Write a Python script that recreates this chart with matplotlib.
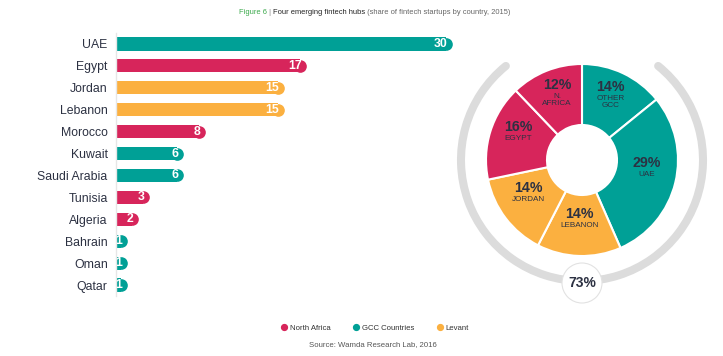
import numpy as np
import matplotlib.pyplot as plt
from matplotlib.patches import Arc, Circle
from matplotlib.lines import Line2D

plt.rcParams['font.family'] = ['Liberation Sans', 'DejaVu Sans']

# bar chart data
countries = ["UAE", "Egypt", "Jordan", "Lebanon", "Morocco", "Kuwait",
             "Saudi Arabia", "Tunisia", "Algeria", "Bahrain", "Oman", "Qatar"]
startups = [30, 17, 15, 15, 8, 6, 6, 3, 2, 1, 1, 1]
regions = ["GCC", "North Africa", "Levant", "Levant", "North Africa", "GCC",
           "GCC", "North Africa", "North Africa", "GCC", "GCC", "GCC"]

# donut data
hub_labels = ["OTHER\nGCC", "UAE", "LEBANON", "JORDAN", "EGYPT", "N.\nAFRICA"]
hub_shares = [14, 29, 14, 14, 16, 12]
hub_regions = ["GCC", "GCC", "Levant", "Levant", "North Africa", "North Africa"]
top4_label = "73%"

legend_keys = ["North Africa", "GCC", "Levant"]
legend_names = ["North Africa", "GCC Countries", "Levant"]

colors = {"North Africa": "#d7255b", "GCC": "#00a096", "Levant": "#fbb040"}
dark = "#2c3142"

W, H = 723, 356
fig = plt.figure(figsize=(W / 100, H / 100), dpi=100)

# ---- bars ----
px_per_unit = 11.23
ax = fig.add_axes([116 / W, 60 / H, 360 / W, 263 / H])
ax.set_xlim(0, 360 / px_per_unit)
ax.set_ylim(11.5, -0.5)
cap = 6.5 / px_per_unit
ys = np.arange(len(countries))
for y, v, r in zip(ys, startups, regions):
    c = colors[r]
    ax.barh(y, v - cap, height=0.6, color=c, lw=0)
    ax.plot(v - cap, y, 'o', ms=9.1, color=c, mec='none')
    ax.text(v - 0.45, y, str(v), ha='right', va='center', color='white',
            fontsize=8.8, fontweight='bold')

ax.set_yticks(ys)
ax.set_yticklabels(countries, fontsize=8.8, color=dark)
ax.tick_params(axis='y', length=0, pad=6)
ax.set_xticks([])
for s in ['top', 'right', 'bottom']:
    ax.spines[s].set_visible(False)
ax.spines['left'].set_color('#e6e6e6')
ax.spines['left'].set_linewidth(1)

# ---- donut ----
cx, cy = 582, H - 160
pax = fig.add_axes([(cx - 150) / W, (cy - 150) / H, 300 / W, 300 / H])
wedges, _ = pax.pie(hub_shares, colors=[colors[r] for r in hub_regions],
                    startangle=90, counterclock=False, radius=96,
                    wedgeprops=dict(width=61, edgecolor='white', linewidth=1.5))
pax.set_xlim(-150, 150)
pax.set_ylim(-150, 150)
pax.axis('off')

for w, lab, share in zip(wedges, hub_labels, hub_shares):
    ang = np.deg2rad((w.theta1 + w.theta2) / 2)
    x, y = 67 * np.cos(ang), 67 * np.sin(ang) + 5
    pax.text(x, y + 1, f"{share}%", ha='center', va='bottom', fontsize=10.2,
             fontweight='bold', color=dark)
    pax.text(x, y, lab, ha='center', va='top', fontsize=5.9, color=dark,
             linespacing=1.0)

arc = Arc((0, 0), 242, 242, theta1=129, theta2=51, color='#dcdcdc', lw=5.8)
arc.set_capstyle('round')
pax.add_patch(arc)
pax.add_patch(Circle((0, -123), 20, facecolor='white', edgecolor='#e2e2e2',
                     lw=0.8, zorder=5))
pax.text(0, -123, top4_label, ha='center', va='center', fontsize=10,
         fontweight='bold', color=dark, zorder=6)

# ---- title ----
fs = 5.4
t1 = fig.text(239 / W, 1 - 12 / H, "Figure 6", fontsize=fs, color='#3aa84a',
              va='center')
t2 = plt.annotate(" | ", xy=(1, 0), xycoords=t1, va='bottom', fontsize=fs,
                  color='#888888')
t3 = plt.annotate("Four emerging fintech hubs", xy=(1, 0), xycoords=t2,
                  va='bottom', fontsize=fs, color='#222222')
plt.annotate(" (share of fintech startups by country, 2015)", xy=(1, 0),
             xycoords=t3, va='bottom', fontsize=fs, color='#666666')

# ---- legend + source ----
handles = [Line2D([], [], marker='o', ls='none', ms=4.2, color=colors[k])
           for k in legend_keys]
fig.legend(handles, legend_names, loc='center',
           bbox_to_anchor=(374 / W, 1 - 328 / H), ncol=3, frameon=False,
           fontsize=5.6, handletextpad=0.1, columnspacing=2.7,
           handlelength=1.2, labelcolor='#333333')
fig.text(373 / W, 1 - 345 / H, "Source: Wamda Research Lab, 2016",
         ha='center', va='center', fontsize=5.6, color='#555555')

fig.savefig("out.png", dpi=100)
